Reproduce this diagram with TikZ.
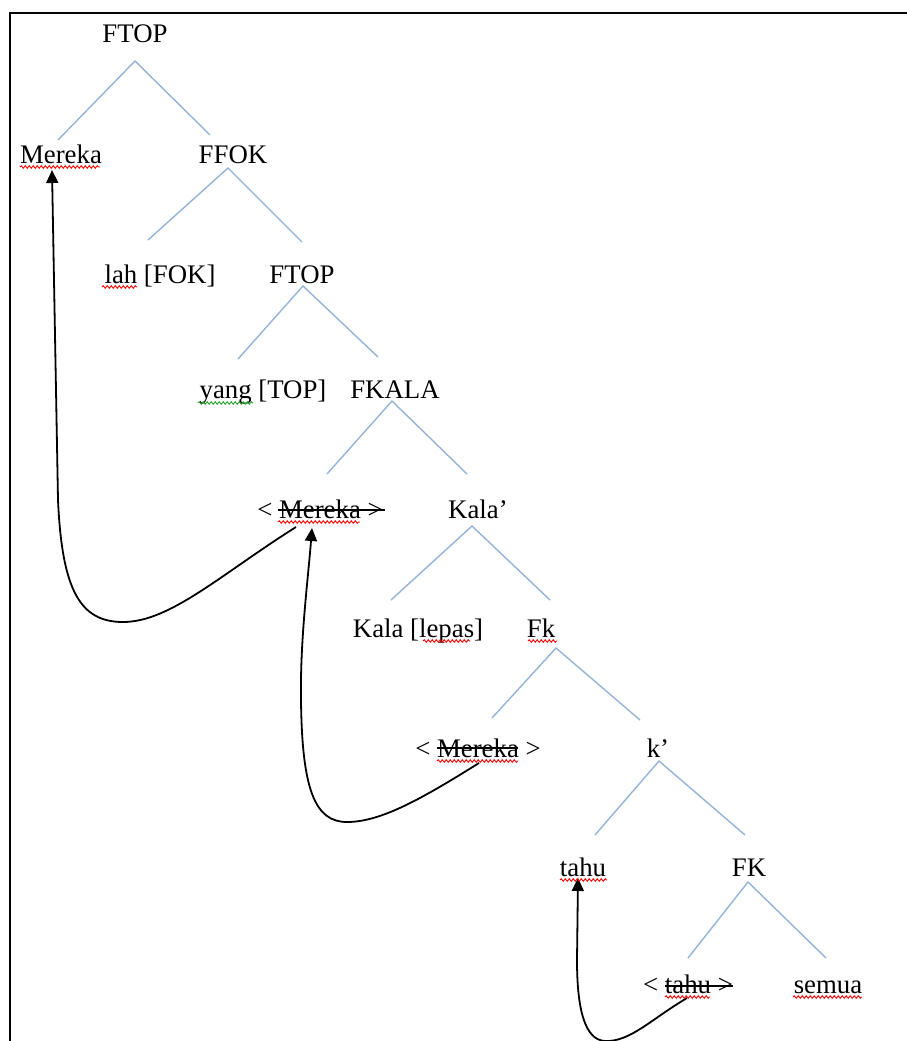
\documentclass[tikz,border=0pt]{standalone}
\usepackage{fontspec}
\setmainfont{Liberation Serif}
\usetikzlibrary{arrows.meta,decorations.pathmorphing}
\definecolor{treeblue}{RGB}{149,179,215}
\definecolor{spellgreen}{RGB}{40,160,40}
\tikzset{
  word/.style={anchor=base, inner sep=0pt, font=\fontsize{26.8}{30}\selectfont},
  branch/.style={treeblue, line width=1.4pt},
  movearrow/.style={line width=1.8pt, -{Triangle[length=13pt,width=12pt]}},
  wavy/.style={decorate, decoration={snake, amplitude=1.3pt, segment length=4pt}, line width=0.9pt},
  strikeout/.style={line width=1.5pt}
}
\begin{document}
\begin{tikzpicture}[x=1pt,y=-1pt]
\useasboundingbox (0,0) rectangle (907,1041);
\draw[line width=2pt] (10,1041) -- (10,13) -- (907,13);

% words of the tree
\node[word] (ftopa) at (135,43) {FTOP};
\node[word] (mereka) at (61,163) {Mereka};
\node[word] (ffok) at (233,163) {FFOK};
\node[word] (lah) at (160,283) {lah [FOK]};
\node[word] (ftopb) at (302,283) {FTOP};
\node[word] (yang) at (263,398) {yang [TOP]};
\node[word] (fkala) at (395,398) {FKALA};
\node[word] (merekab) at (320,518) {< Mereka >};
\node[word] (kalabar) at (478,518) {Kala’};
\node[word] (kala) at (418,637) {Kala [lepas]};
\node[word] (fk) at (541,637) {Fk};
\node[word] (merekac) at (478,757) {< Mereka >};
\node[word] (kbar) at (658,757) {k’};
\node[word] (tahua) at (583,876) {tahu};
\node[word] (fkk) at (749,876) {FK};
\node[word] (tahub) at (688,993) {< tahu >};
\node[word] (semua) at (828,993) {semua};

% branches
\draw[branch] ([shift={(-3,-23)}]mereka.base) -- ([shift={(0,18)}]ftopa.base) -- ([shift={(-23,-28)}]ffok.base);
\draw[branch] ([shift={(-12,-43)}]lah.base) -- ([shift={(-5,5)}]ffok.base) -- ([shift={(0,-41)}]ftopb.base);
\draw[branch] ([shift={(-25,-39)}]yang.base) -- ([shift={(1,3)}]ftopb.base) -- ([shift={(-17,-41)}]fkala.base);
\draw[branch] ([shift={(7,-44)}]merekab.base) -- ([shift={(-3,3)}]fkala.base) -- ([shift={(-11,-44)}]kalabar.base);
\draw[branch] ([shift={(-27,-37)}]kala.base) -- ([shift={(-6,8)}]kalabar.base) -- ([shift={(9,-37)}]fk.base);
\draw[branch] ([shift={(14,-39)}]merekac.base) -- ([shift={(15,11)}]fk.base) -- ([shift={(-18,-37)}]kbar.base);
\draw[branch] ([shift={(12,-41)}]tahua.base) -- ([shift={(1,4)}]kbar.base) -- ([shift={(-4,-41)}]fkk.base);
\draw[branch] ([shift={(0,-35)}]tahub.base) -- ([shift={(-1,6)}]fkk.base) -- ([shift={(-2,-35)}]semua.base);

% movement
\draw[movearrow] ([shift={(-24,9)}]merekab.base) .. controls (220,575) and (170,622) .. (123,622)
  .. controls (80,622) and (62,590) .. (58,500) -- ([shift={(-9,7)}]mereka.base);
\draw[movearrow] ([shift={(1,6)}]merekac.base) .. controls (420,800) and (380,822) .. (347,822)
  .. controls (315,822) and (302,790) .. (301,700) .. controls (300,640) and (308,580) .. ([shift={(-8,10)}]merekab.base);
\draw[movearrow] ([shift={(-1,5)}]tahub.base) .. controls (650,1020) and (630,1042) .. (605,1041)
  .. controls (585,1040) and (577,1010) .. (577,960) -- ([shift={(-5,2)}]tahua.base);

% struck copies
\draw[strikeout] ([shift={(-42,-8)}]merekab.base) -- ([shift={(65,-8)}]merekab.base);
\draw[strikeout] ([shift={(-41,-9)}]merekac.base) -- ([shift={(40,-9)}]merekac.base);
\draw[strikeout] ([shift={(-23,-7)}]tahub.base) -- ([shift={(45,-7)}]tahub.base);

% spelling marks
\draw[wavy, red] ([shift={(-41,4)}]mereka.base) -- ([shift={(39,4)}]mereka.base);
\draw[wavy, red] ([shift={(-58,4)}]lah.base) -- ([shift={(-23,4)}]lah.base);
\draw[wavy, spellgreen] ([shift={(-65,5)}]yang.base) -- ([shift={(-10,5)}]yang.base);
\draw[wavy, red] ([shift={(-42,4)}]merekab.base) -- ([shift={(40,4)}]merekab.base);
\draw[wavy, red] ([shift={(5,4)}]kala.base) -- ([shift={(52,4)}]kala.base);
\draw[wavy, red] ([shift={(-13,4)}]fk.base) -- ([shift={(16,4)}]fk.base);
\draw[wavy, red] ([shift={(-41,4)}]merekac.base) -- ([shift={(40,4)}]merekac.base);
\draw[wavy, red] ([shift={(-23,4)}]tahua.base) -- ([shift={(24,4)}]tahua.base);
\draw[wavy, red] ([shift={(-23,4)}]tahub.base) -- ([shift={(22,4)}]tahub.base);
\draw[wavy, red] ([shift={(-35,4)}]semua.base) -- ([shift={(34,4)}]semua.base);
\end{tikzpicture}
\end{document}
